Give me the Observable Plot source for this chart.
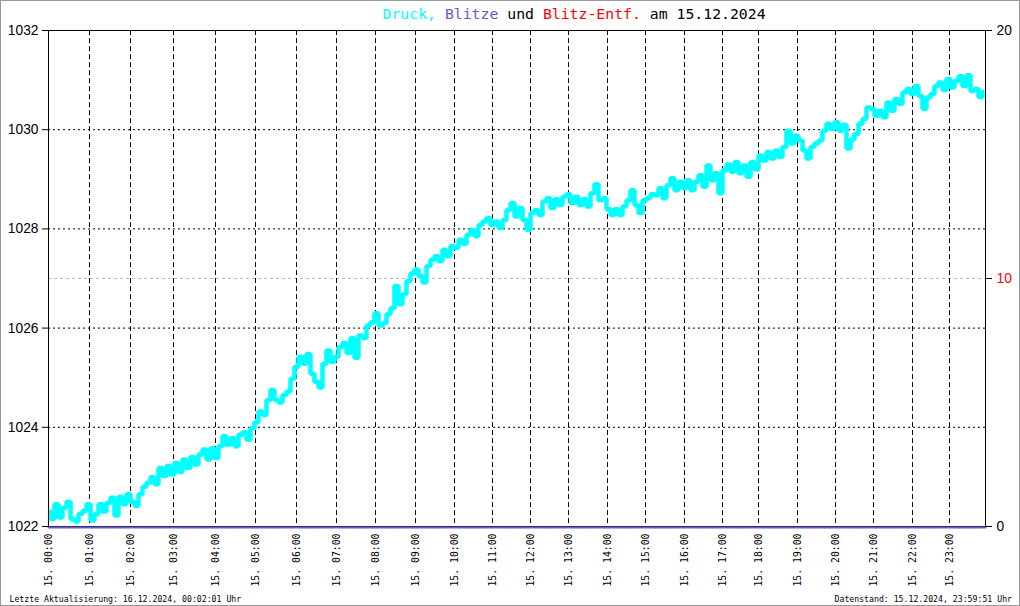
<!DOCTYPE html>
<html><head><meta charset="utf-8">
<script src="https://cdn.jsdelivr.net/npm/d3@7"></script>
<script src="https://cdn.jsdelivr.net/npm/@observablehq/plot@0.6"></script>
<style>
body{margin:0;background:#fff;}
#wrap{position:relative;width:1020px;height:606px;overflow:hidden;background:#fff;}
#wrap svg{position:absolute;left:0;top:0;}
#border{position:absolute;left:0;top:0;width:1020px;height:606px;box-sizing:border-box;border:1px solid #999;pointer-events:none;}
</style></head><body>
<div id="wrap"><div id="border"></div></div>
<script>
// ---- data ----
const sampleStep = 4;          // one reading per 4 samples
const sampleCount = 937;       // samples plotted on the day
const pressure = [
  1022.30, 1022.15, 1022.45, 1022.18, 1022.38, 1022.50, 1022.15, 1022.10, 1022.25, 1022.32, 1022.45,
  1022.12, 1022.25, 1022.45, 1022.30, 1022.48, 1022.58, 1022.22, 1022.60, 1022.45, 1022.65,
  1022.50, 1022.42, 1022.65, 1022.80, 1022.88, 1023.00, 1022.85, 1023.18, 1023.02, 1023.22, 1023.05,
  1023.28, 1023.10, 1023.35, 1023.18, 1023.40, 1023.25, 1023.45, 1023.55, 1023.35, 1023.58,
  1023.38, 1023.62, 1023.82, 1023.65, 1023.78, 1023.62, 1023.85, 1023.90, 1023.75, 1023.98,
  1024.10, 1024.32, 1024.25, 1024.55, 1024.75, 1024.55, 1024.50, 1024.65, 1024.72, 1024.98,
  1025.22, 1025.42, 1025.28, 1025.48, 1025.08, 1024.92, 1024.80, 1025.28, 1025.55, 1025.32,
  1025.42, 1025.62, 1025.70, 1025.50, 1025.80, 1025.40, 1025.85, 1025.80, 1026.05, 1026.12,
  1026.30, 1026.05, 1026.10, 1026.28, 1026.40, 1026.85, 1026.48, 1026.68, 1026.95, 1027.10,
  1027.18, 1027.05, 1026.92, 1027.25, 1027.38, 1027.45, 1027.35, 1027.58, 1027.45, 1027.65,
  1027.62, 1027.78, 1027.70, 1027.88, 1027.98, 1027.85, 1028.08, 1028.15, 1028.22, 1028.08,
  1028.15, 1028.02, 1028.18, 1028.38, 1028.52, 1028.25, 1028.42, 1028.18, 1027.98, 1028.32,
  1028.38, 1028.28, 1028.55, 1028.62, 1028.42, 1028.60, 1028.48, 1028.65, 1028.70, 1028.52,
  1028.65, 1028.48, 1028.60, 1028.45, 1028.72, 1028.90, 1028.58, 1028.62, 1028.40, 1028.28,
  1028.40, 1028.28, 1028.45, 1028.58, 1028.78, 1028.48, 1028.32, 1028.58, 1028.62, 1028.70,
  1028.68, 1028.82, 1028.62, 1028.88, 1029.02, 1028.78, 1028.95, 1028.82, 1028.98, 1028.78,
  1028.95, 1029.08, 1028.85, 1029.28, 1028.98, 1029.12, 1028.72, 1029.18, 1029.30, 1029.15,
  1029.35, 1029.12, 1029.28, 1029.05, 1029.35, 1029.20, 1029.48, 1029.38, 1029.55, 1029.42,
  1029.58, 1029.45, 1029.65, 1029.98, 1029.72, 1029.88, 1029.78, 1029.58, 1029.42, 1029.65,
  1029.72, 1029.78, 1029.98, 1030.12, 1030.02, 1030.15, 1029.98, 1030.10, 1029.62, 1029.80,
  1029.92, 1030.12, 1030.22, 1030.45, 1030.42, 1030.28, 1030.38, 1030.25, 1030.55, 1030.38,
  1030.62, 1030.52, 1030.75, 1030.82, 1030.72, 1030.88, 1030.68, 1030.42, 1030.65, 1030.72,
  1030.88, 1030.95, 1030.80, 1031.02, 1030.85, 1030.98, 1031.08, 1030.88, 1031.10, 1030.78, 1030.82, 1030.66, 1030.76
];
// lightning count per hour (none on this day)
const blitze = [0,0,0,0,0,0,0,0,0,0,0,0,0,0,0,0,0,0,0,0,0,0,0,0];
// sample index at which each hour starts
const hourIdx = [0, 41, 82, 125, 167, 207, 248, 288, 327, 367, 406, 444, 482, 520, 559, 597, 636, 674, 710, 749, 787, 825, 864, 901];
const hourLabels = ["15. 00:00","15. 01:00","15. 02:00","15. 03:00","15. 04:00","15. 05:00","15. 06:00","15. 07:00",
  "15. 08:00","15. 09:00","15. 10:00","15. 11:00","15. 12:00","15. 13:00","15. 14:00","15. 15:00",
  "15. 16:00","15. 17:00","15. 18:00","15. 19:00","15. 20:00","15. 21:00","15. 22:00","15. 23:00"];
const leftTicks = [1022, 1024, 1026, 1028, 1030, 1032];
const gridLeft = [1024, 1026, 1028, 1030];
const rightDomain = [0, 20];
const rightTicks = [0, 10, 20];
const rightGrid = [10];
const titleParts = [["Druck,", "#00ffff"], [" ", "#000"], ["Blitze", "#6a5acd"], [" und ", "#000"], ["Blitz-Entf.", "#ff0000"], [" am 15.12.2024", "#000"]];
const footLeft = "Letzte Aktualisierung: 16.12.2024, 00:02:01 Uhr";
const footRight = "Datenstand: 15.12.2024, 23:59:51 Uhr";

// ---- chart ----
const yDomain = [leftTicks[0], leftTicks[leftTicks.length - 1]];
const toLeft = d3.scaleLinear().domain(rightDomain).range(yDomain);
const pressureData = pressure.map((v, i) => ({s: i * sampleStep, v}));
const blitzeData = blitze.map((v, i) => ({s: hourIdx[i], v: toLeft(v)}));
blitzeData.push({s: sampleCount, v: toLeft(blitze[blitze.length - 1])});

const chart = Plot.plot({
  width: 1020, height: 606,
  marginLeft: 48, marginRight: 35, marginTop: 30, marginBottom: 80,
  x: {domain: [0, sampleCount], axis: null},
  y: {domain: yDomain, axis: null},
  style: {background: "transparent", overflow: "visible"},
  marks: [
    Plot.ruleY(rightGrid.map(toLeft), {stroke: "#bbb", strokeDasharray: "3,3"}),
    Plot.ruleY(gridLeft, {stroke: "#000", strokeDasharray: "2,3"}),
    Plot.ruleX(hourIdx.slice(1), {stroke: "#000", strokeDasharray: "5,3"}),
    Plot.line(pressureData, {x: "s", y: "v", stroke: "#00ffff", strokeWidth: 4.5, curve: "step",
      strokeLinejoin: "miter", strokeLinecap: "butt"}),
    Plot.frame({stroke: "#000"}),
    Plot.line(blitzeData, {x: "s", y: "v", stroke: "#6a5acd", strokeWidth: 2, dy: 1, curve: "step-after"}),
    Plot.axisY(leftTicks, {anchor: "left", tickFormat: d => String(d), tickSize: 6, tickPadding: 4,
      fontSize: 13.8, fontFamily: "Liberation Sans", label: null}),
    Plot.axisY(rightTicks.filter(d => d !== 10).map(toLeft), {anchor: "right", tickFormat: d => String(Math.round(toLeft.invert(d))),
      tickSize: 6, tickPadding: 5, fontSize: 13.8, fontFamily: "Liberation Sans", label: null}),
    Plot.axisY(rightTicks.filter(d => d === 10).map(toLeft), {anchor: "right", tickFormat: d => String(Math.round(toLeft.invert(d))),
      tickSize: 6, tickPadding: 5, fontSize: 13.8, fontFamily: "Liberation Sans", fill: "#ff0000", label: null}),
    Plot.axisX(hourIdx, {anchor: "bottom", tickFormat: d => hourLabels[hourIdx.indexOf(d)], tickRotate: -90,
      tickSize: 0, tickPadding: 7, fontSize: 9.8, fontFamily: "DejaVu Sans Mono", label: null})
  ]
});
const wrap = document.getElementById("wrap");
wrap.insertBefore(chart, wrap.firstChild);

const svg = d3.select(chart);
const title = svg.append("text").attr("x", 382.5).attr("y", 18.5).attr("text-anchor", "start")
  .attr("font-family", "DejaVu Sans Mono").attr("font-size", "14.8px").style("white-space", "pre");
titleParts.forEach(([t, c]) => title.append("tspan").attr("fill", c).text(t));
svg.append("text").attr("x", 9.5).attr("y", 602).attr("text-anchor", "start").attr("font-family", "DejaVu Sans Mono")
  .attr("font-size", "8.2px").attr("fill", "#000").text(footLeft);
svg.append("text").attr("x", 1012).attr("y", 602).attr("text-anchor", "end").attr("font-family", "DejaVu Sans Mono")
  .attr("font-size", "8.2px").attr("fill", "#000").text(footRight);
</script>
</body></html>
